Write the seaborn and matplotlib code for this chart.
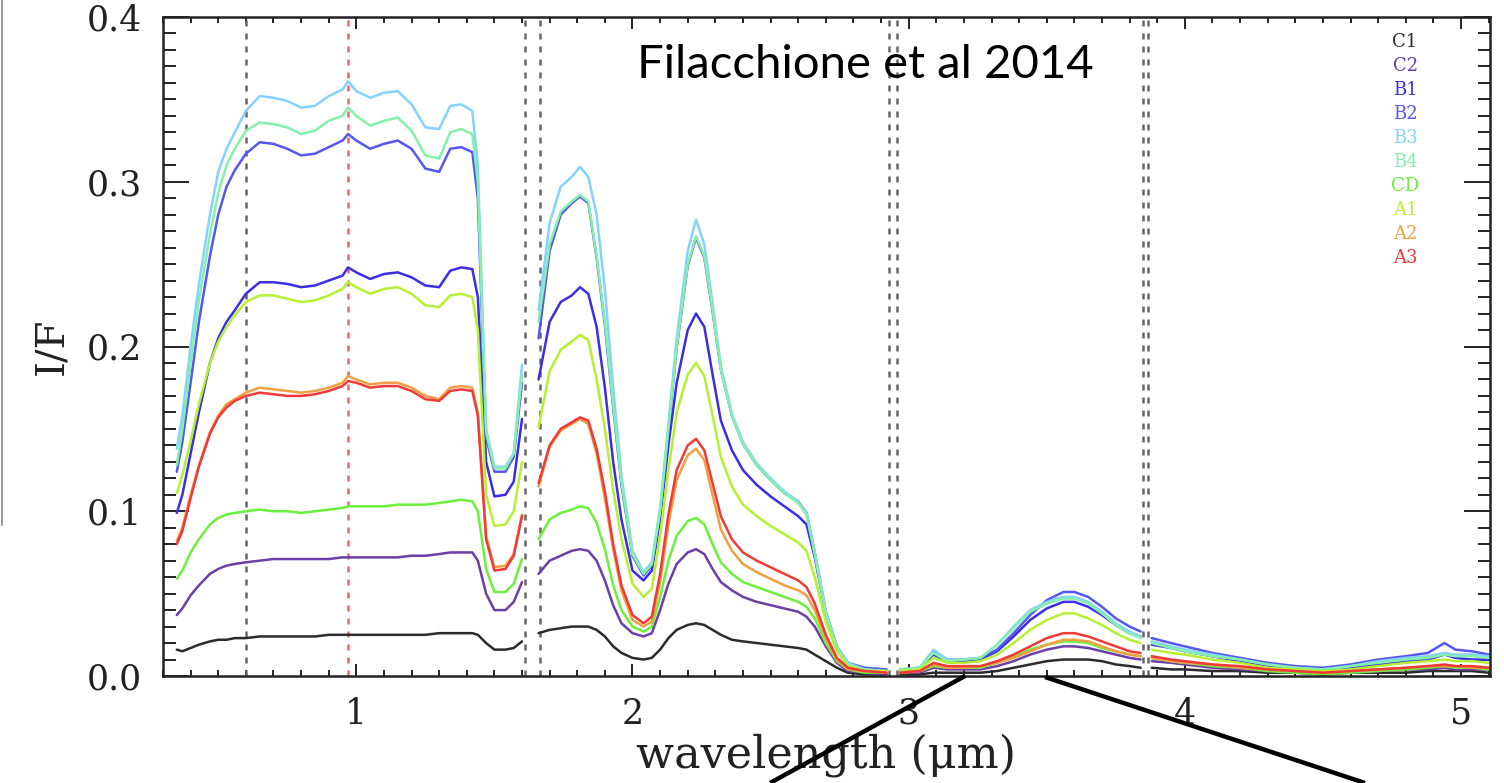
import matplotlib
matplotlib.use("Agg")
import matplotlib.pyplot as plt
from matplotlib.lines import Line2D
from matplotlib.ticker import MultipleLocator, FormatStrFormatter
import pandas as pd
import seaborn as sns

# Wavelength grid (micron); None marks the breaks between spectrometer channels
WAVELENGTH = [
    0.35, 0.37, 0.40, 0.43, 0.47, 0.50, 0.53, 0.56, 0.60, 0.65,
    0.70, 0.75, 0.80, 0.85, 0.90, 0.95, 0.97, 1.00, 1.05, 1.10,
    1.15, 1.20, 1.25, 1.30, 1.34, 1.38, 1.42, 1.44, 1.47, 1.50,
    1.54, 1.57, 1.60,
    None,
    1.66, 1.70, 1.74, 1.78, 1.81, 1.84, 1.87, 1.90, 1.93, 1.96,
    2.00, 2.04, 2.07, 2.10, 2.13, 2.16, 2.20, 2.23, 2.26, 2.29,
    2.32, 2.36, 2.40, 2.45, 2.50, 2.55, 2.60, 2.63, 2.66, 2.70,
    2.74, 2.78, 2.84, 2.92,
    None,
    2.97, 3.04, 3.09, 3.14, 3.20, 3.26, 3.32, 3.38, 3.44, 3.50,
    3.56, 3.60, 3.65, 3.70, 3.75, 3.80, 3.84,
    None,
    3.88, 3.95, 4.00, 4.10, 4.20, 4.30, 4.40, 4.50, 4.60, 4.70,
    4.80, 4.88, 4.94, 4.98, 5.04, 5.10,
]

# I/F spectra of the ring regions
C1 = [
    0.016, 0.015, 0.017, 0.019, 0.021, 0.022, 0.022, 0.023, 0.023, 0.024,
    0.024, 0.024, 0.024, 0.024, 0.025, 0.025, 0.025, 0.025, 0.025, 0.025,
    0.025, 0.025, 0.025, 0.026, 0.026, 0.026, 0.026, 0.025, 0.020, 0.016,
    0.016, 0.017, 0.021,
    None,
    0.026, 0.028, 0.029, 0.030, 0.030, 0.030, 0.028, 0.024, 0.018, 0.014,
    0.011, 0.010, 0.011, 0.016, 0.023, 0.028, 0.031, 0.032, 0.031, 0.028,
    0.025, 0.022, 0.021, 0.020, 0.019, 0.018, 0.017, 0.016, 0.013, 0.009,
    0.005, 0.002, 0.001, 0.001,
    None,
    0.001, 0.001, 0.002, 0.002, 0.002, 0.002, 0.003, 0.005, 0.007, 0.009,
    0.010, 0.010, 0.010, 0.009, 0.007, 0.006, 0.005,
    None,
    0.005, 0.004, 0.004, 0.003, 0.003, 0.002, 0.002, 0.001, 0.002, 0.002,
    0.002, 0.003, 0.003, 0.003, 0.003, 0.002,
]
C2 = [
    0.037, 0.041, 0.049, 0.055, 0.062, 0.065, 0.067, 0.068, 0.069, 0.070,
    0.071, 0.071, 0.071, 0.071, 0.071, 0.072, 0.072, 0.072, 0.072, 0.072,
    0.072, 0.073, 0.073, 0.074, 0.075, 0.075, 0.075, 0.070, 0.050, 0.040,
    0.040, 0.045, 0.057,
    None,
    0.062, 0.070, 0.073, 0.076, 0.077, 0.076, 0.070, 0.058, 0.043, 0.032,
    0.026, 0.024, 0.026, 0.040, 0.056, 0.068, 0.075, 0.077, 0.074, 0.065,
    0.057, 0.052, 0.048, 0.045, 0.043, 0.041, 0.039, 0.036, 0.030, 0.018,
    0.008, 0.003, 0.002, 0.001,
    None,
    0.002, 0.002, 0.005, 0.004, 0.004, 0.004, 0.006, 0.009, 0.013, 0.016,
    0.018, 0.018, 0.017, 0.015, 0.013, 0.011, 0.010,
    None,
    0.009, 0.008, 0.007, 0.005, 0.004, 0.003, 0.002, 0.002, 0.002, 0.003,
    0.004, 0.004, 0.005, 0.004, 0.004, 0.004,
]
B1 = [
    0.099, 0.110, 0.135, 0.160, 0.190, 0.205, 0.215, 0.222, 0.232, 0.239,
    0.239, 0.238, 0.236, 0.237, 0.240, 0.243, 0.248, 0.245, 0.241, 0.244,
    0.245, 0.242, 0.237, 0.236, 0.246, 0.248, 0.247, 0.230, 0.130, 0.109,
    0.110, 0.118, 0.156,
    None,
    0.180, 0.215, 0.227, 0.231, 0.236, 0.232, 0.212, 0.175, 0.130, 0.095,
    0.064, 0.058, 0.064, 0.095, 0.140, 0.178, 0.210, 0.220, 0.212, 0.183,
    0.155, 0.137, 0.125, 0.116, 0.109, 0.103, 0.097, 0.092, 0.072, 0.038,
    0.017, 0.007, 0.004, 0.003,
    None,
    0.003, 0.004, 0.013, 0.009, 0.009, 0.010, 0.015, 0.024, 0.034, 0.041,
    0.045, 0.045, 0.042, 0.037, 0.031, 0.026, 0.024,
    None,
    0.019, 0.017, 0.015, 0.012, 0.009, 0.006, 0.004, 0.004, 0.005, 0.007,
    0.009, 0.010, 0.013, 0.011, 0.010, 0.010,
]
B2 = [
    0.124, 0.142, 0.178, 0.215, 0.255, 0.280, 0.297, 0.307, 0.317, 0.324,
    0.323, 0.320, 0.316, 0.317, 0.321, 0.325, 0.329, 0.325, 0.320, 0.323,
    0.325, 0.320, 0.308, 0.306, 0.320, 0.321, 0.318, 0.290, 0.145, 0.124,
    0.124, 0.133, 0.178,
    None,
    0.205, 0.258, 0.280, 0.287, 0.291, 0.287, 0.254, 0.213, 0.163, 0.116,
    0.073, 0.061, 0.067, 0.099, 0.149, 0.199, 0.249, 0.266, 0.254, 0.221,
    0.186, 0.158, 0.141, 0.128, 0.119, 0.111, 0.106, 0.099, 0.075, 0.039,
    0.018, 0.008, 0.005, 0.004,
    None,
    0.004, 0.005, 0.015, 0.010, 0.010, 0.011, 0.016, 0.026, 0.037, 0.046,
    0.051, 0.051, 0.048, 0.042, 0.035, 0.030, 0.027,
    None,
    0.023, 0.020, 0.018, 0.014, 0.011, 0.008, 0.006, 0.005, 0.007, 0.010,
    0.012, 0.014, 0.020, 0.016, 0.015, 0.013,
]
B3 = [
    0.138, 0.158, 0.200, 0.238, 0.280, 0.306, 0.320, 0.330, 0.343, 0.352,
    0.351, 0.349, 0.345, 0.346, 0.352, 0.356, 0.361, 0.355, 0.351, 0.354,
    0.355, 0.347, 0.333, 0.332, 0.346, 0.347, 0.343, 0.310, 0.150, 0.127,
    0.127, 0.135, 0.189,
    None,
    0.222, 0.275, 0.297, 0.303, 0.309, 0.303, 0.280, 0.235, 0.175, 0.122,
    0.076, 0.063, 0.069, 0.102, 0.153, 0.205, 0.258, 0.277, 0.262, 0.226,
    0.188, 0.159, 0.142, 0.129, 0.120, 0.112, 0.106, 0.099, 0.075, 0.039,
    0.018, 0.008, 0.004, 0.003,
    None,
    0.004, 0.005, 0.016, 0.010, 0.010, 0.011, 0.019, 0.030, 0.040, 0.045,
    0.048, 0.048, 0.045, 0.039, 0.032, 0.027, 0.024,
    None,
    0.021, 0.018, 0.016, 0.013, 0.010, 0.007, 0.005, 0.004, 0.006, 0.009,
    0.011, 0.012, 0.014, 0.013, 0.013, 0.012,
]
B4 = [
    0.128, 0.150, 0.190, 0.228, 0.268, 0.293, 0.310, 0.320, 0.331, 0.336,
    0.335, 0.333, 0.329, 0.331, 0.337, 0.340, 0.345, 0.340, 0.334, 0.337,
    0.339, 0.331, 0.316, 0.314, 0.330, 0.332, 0.329, 0.300, 0.148, 0.126,
    0.126, 0.135, 0.183,
    None,
    0.215, 0.262, 0.282, 0.288, 0.292, 0.288, 0.255, 0.215, 0.165, 0.118,
    0.074, 0.062, 0.068, 0.100, 0.150, 0.200, 0.250, 0.267, 0.255, 0.222,
    0.186, 0.158, 0.141, 0.128, 0.119, 0.111, 0.105, 0.098, 0.074, 0.038,
    0.017, 0.007, 0.004, 0.003,
    None,
    0.004, 0.005, 0.014, 0.009, 0.010, 0.011, 0.019, 0.029, 0.039, 0.044,
    0.047, 0.047, 0.044, 0.038, 0.031, 0.026, 0.023,
    None,
    0.020, 0.017, 0.015, 0.012, 0.010, 0.007, 0.005, 0.004, 0.006, 0.008,
    0.010, 0.011, 0.013, 0.012, 0.012, 0.011,
]
CD = [
    0.059, 0.064, 0.075, 0.083, 0.092, 0.096, 0.098, 0.099, 0.100, 0.101,
    0.100, 0.100, 0.099, 0.100, 0.101, 0.102, 0.103, 0.103, 0.103, 0.103,
    0.104, 0.104, 0.104, 0.105, 0.106, 0.107, 0.106, 0.100, 0.065, 0.051,
    0.051, 0.056, 0.071,
    None,
    0.083, 0.095, 0.099, 0.101, 0.103, 0.102, 0.093, 0.077, 0.055, 0.040,
    0.030, 0.027, 0.030, 0.048, 0.070, 0.085, 0.094, 0.096, 0.092, 0.080,
    0.069, 0.062, 0.057, 0.054, 0.051, 0.048, 0.045, 0.042, 0.035, 0.020,
    0.009, 0.004, 0.002, 0.002,
    None,
    0.002, 0.003, 0.006, 0.005, 0.005, 0.005, 0.008, 0.012, 0.016, 0.019,
    0.021, 0.021, 0.020, 0.017, 0.015, 0.013, 0.012,
    None,
    0.011, 0.009, 0.008, 0.006, 0.005, 0.003, 0.002, 0.001, 0.002, 0.003,
    0.004, 0.005, 0.006, 0.005, 0.005, 0.004,
]
A1 = [
    0.111, 0.122, 0.143, 0.165, 0.190, 0.203, 0.212, 0.219, 0.227, 0.231,
    0.231, 0.229, 0.227, 0.228, 0.231, 0.235, 0.239, 0.236, 0.232, 0.235,
    0.236, 0.232, 0.225, 0.224, 0.231, 0.232, 0.230, 0.210, 0.110, 0.091,
    0.092, 0.100, 0.130,
    None,
    0.151, 0.185, 0.198, 0.203, 0.207, 0.204, 0.180, 0.150, 0.113, 0.083,
    0.056, 0.048, 0.053, 0.085, 0.125, 0.160, 0.183, 0.190, 0.182, 0.158,
    0.133, 0.115, 0.104, 0.097, 0.091, 0.086, 0.081, 0.076, 0.060, 0.033,
    0.015, 0.006, 0.003, 0.003,
    None,
    0.003, 0.004, 0.011, 0.008, 0.008, 0.009, 0.013, 0.020, 0.028, 0.034,
    0.038, 0.038, 0.035, 0.031, 0.026, 0.022, 0.020,
    None,
    0.016, 0.014, 0.013, 0.010, 0.008, 0.005, 0.004, 0.003, 0.004, 0.006,
    0.008, 0.009, 0.010, 0.009, 0.009, 0.008,
]
A2 = [
    0.082, 0.090, 0.110, 0.128, 0.148, 0.158, 0.165, 0.168, 0.172, 0.175,
    0.174, 0.173, 0.172, 0.173, 0.175, 0.178, 0.182, 0.180, 0.177, 0.178,
    0.178, 0.175, 0.170, 0.168, 0.175, 0.176, 0.175, 0.160, 0.085, 0.066,
    0.067, 0.074, 0.098,
    None,
    0.115, 0.139, 0.149, 0.153, 0.156, 0.153, 0.135, 0.108, 0.077, 0.052,
    0.034, 0.030, 0.033, 0.057, 0.092, 0.119, 0.134, 0.138, 0.131, 0.110,
    0.089, 0.076, 0.068, 0.063, 0.059, 0.055, 0.052, 0.049, 0.040, 0.023,
    0.010, 0.004, 0.003, 0.002,
    None,
    0.002, 0.003, 0.007, 0.005, 0.005, 0.006, 0.008, 0.011, 0.015, 0.019,
    0.022, 0.022, 0.021, 0.018, 0.015, 0.013, 0.012,
    None,
    0.011, 0.009, 0.008, 0.007, 0.005, 0.004, 0.003, 0.002, 0.003, 0.004,
    0.005, 0.006, 0.006, 0.006, 0.005, 0.005,
]
A3 = [
    0.080, 0.088, 0.108, 0.127, 0.147, 0.157, 0.163, 0.167, 0.170, 0.172,
    0.171, 0.170, 0.170, 0.171, 0.173, 0.176, 0.179, 0.178, 0.175, 0.176,
    0.176, 0.173, 0.168, 0.167, 0.173, 0.174, 0.173, 0.158, 0.083, 0.064,
    0.065, 0.073, 0.097,
    None,
    0.117, 0.140, 0.150, 0.154, 0.157, 0.155, 0.138, 0.112, 0.080, 0.055,
    0.037, 0.032, 0.036, 0.062, 0.098, 0.125, 0.140, 0.144, 0.137, 0.117,
    0.097, 0.083, 0.075, 0.070, 0.066, 0.062, 0.058, 0.054, 0.044, 0.025,
    0.011, 0.005, 0.003, 0.002,
    None,
    0.002, 0.003, 0.008, 0.006, 0.006, 0.006, 0.009, 0.013, 0.018, 0.023,
    0.026, 0.026, 0.024, 0.021, 0.018, 0.015, 0.014,
    None,
    0.012, 0.010, 0.009, 0.007, 0.006, 0.004, 0.003, 0.002, 0.003, 0.004,
    0.005, 0.006, 0.007, 0.006, 0.006, 0.005,
]

REGIONS = ["C1", "C2", "B1", "B2", "B3", "B4", "CD", "A1", "A2", "A3"]
SPECTRA = [C1, C2, B1, B2, B3, B4, CD, A1, A2, A3]
COLORS = ["#2b2b2b", "#6b3fa8", "#3c2ee6", "#5656f2", "#84d2ff",
          "#84f0aa", "#6cf03c", "#b6f032", "#f0a040", "#f03a3a"]

# Reference wavelengths marked by dotted lines
MARK_BLACK = [0.60, 1.61, 1.665, 2.93, 2.957, 3.848, 3.866]
MARK_RED = [0.97]

X_TICKS = [1, 2, 3, 4, 5]
Y_TICKS = [0.0, 0.1, 0.2, 0.3, 0.4]

# long-form table; each channel segment becomes its own line unit
rows = []
for name, vals in zip(REGIONS, SPECTRA):
    seg = 0
    for w, v in zip(WAVELENGTH, vals):
        if w is None:
            seg += 1
            continue
        rows.append((name, seg, w, v))
df = pd.DataFrame(rows, columns=["ring", "segment", "wavelength", "IF"])

sns.set_style("ticks")
plt.rcParams["font.family"] = ["DejaVu Serif"]

W, H = 1504, 783
fig = plt.figure(figsize=(W / 100, H / 100), dpi=100)
ax = fig.add_axes([163 / W, 107 / H, 1327 / W, 659 / H])

for xv in MARK_BLACK:
    ax.axvline(xv, color="#666666", lw=1.8, ls=(0, (2.4, 2.8)), zorder=1)
for xv in MARK_RED:
    ax.axvline(xv, color="#e66a6a", lw=1.8, ls=(0, (2.4, 2.8)), zorder=1)

sns.lineplot(data=df, x="wavelength", y="IF", hue="ring", hue_order=REGIONS,
             units="segment", estimator=None, sort=False,
             palette=dict(zip(REGIONS, COLORS)), lw=1.8, legend=False, ax=ax)

ax.set_xlim(0.30, 5.105)
ax.set_ylim(0.0, 0.4)
ax.set_xticks(X_TICKS)
ax.set_yticks(Y_TICKS)
ax.xaxis.set_minor_locator(MultipleLocator(0.1))
ax.yaxis.set_minor_locator(MultipleLocator(0.01))
ax.yaxis.set_major_formatter(FormatStrFormatter("%.1f"))

for s in ax.spines.values():
    s.set_linewidth(1.8)
    s.set_color("#222222")

ax.tick_params(axis="both", which="both", direction="in", top=True, right=True,
               width=1.4, color="#222222", labelcolor="#222222", labelsize=25)
ax.tick_params(axis="y", which="major", length=18.5, pad=15)
ax.tick_params(axis="y", which="minor", length=9)
ax.tick_params(axis="x", which="major", length=8.5, pad=15)
ax.tick_params(axis="x", which="minor", length=4.5)

ax.set_xlabel("wavelength (\u03bcm)", fontsize=32, color="#222222", labelpad=2)
ax.set_ylabel("I/F", fontsize=29, color="#222222", labelpad=12)

# colour key written as text labels
for i, (name, col) in enumerate(zip(REGIONS, COLORS)):
    py = 42 + i * 24
    ax.text(0.936, (676 - py) / 659, name, transform=ax.transAxes, color=col,
            fontsize=13, ha="center", va="center")

fig.text(865 / W, 1 - 65 / H, "Filacchione et al 2014", fontsize=34,
         family="Lato", color="black", ha="center", va="center")

# zoom-out guide lines beneath the axis
fig.add_artist(Line2D([965 / W, 770 / W], [1 - 676 / H, 0.0], color="black",
                      lw=3.2, solid_capstyle="butt"))
fig.add_artist(Line2D([1045 / W, 1365 / W], [1 - 677 / H, 0.0], color="black",
                      lw=3.2, solid_capstyle="butt"))
fig.add_artist(Line2D([2 / W, 2 / W], [1.0, 1 - 525 / H], color="#9a9a9a", lw=1.5))

fig.savefig("out.png", dpi=100, facecolor="white")
